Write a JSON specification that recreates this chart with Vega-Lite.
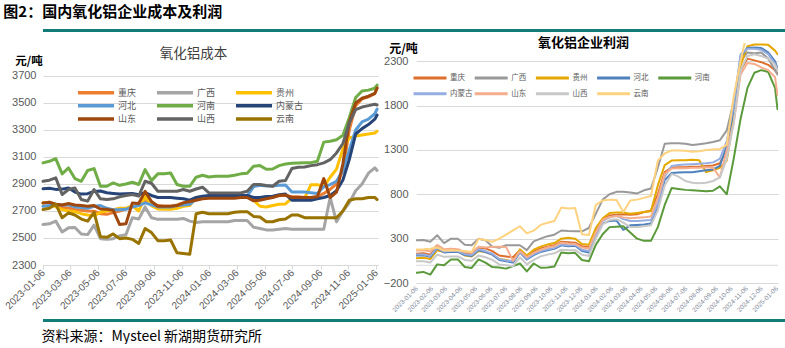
{"$schema":"https://vega.github.io/schema/vega-lite/v6.json","background":"white","padding":{"left":3,"top":5,"right":0,"bottom":0},"autosize":{"type":"pad"},
"config":{"view":{"stroke":null},"axis":{"labelFont":"Liberation Sans"},"title":{"font":"Noto Sans CJK SC"}},
"title":{"text":"图2：国内氧化铝企业成本及利润","anchor":"start","frame":"bounds","fontSize":15,"fontWeight":"bold","color":"#000000","baseline":"bottom","offset":-6},
"datasets":{
"cost":[
{"d":"2023-01-06","s":"重庆","v":2760},{"d":"2023-01-20","s":"重庆","v":2762},{"d":"2023-02-03","s":"重庆","v":2740},{"d":"2023-02-17","s":"重庆","v":2725},{"d":"2023-03-03","s":"重庆","v":2722},{"d":"2023-03-17","s":"重庆","v":2712},{"d":"2023-03-31","s":"重庆","v":2705},{"d":"2023-04-14","s":"重庆","v":2700},{"d":"2023-04-28","s":"重庆","v":2698},{"d":"2023-05-12","s":"重庆","v":2680},{"d":"2023-05-26","s":"重庆","v":2675},{"d":"2023-06-09","s":"重庆","v":2688},{"d":"2023-06-23","s":"重庆","v":2700},{"d":"2023-07-07","s":"重庆","v":2715},{"d":"2023-07-21","s":"重庆","v":2735},{"d":"2023-08-04","s":"重庆","v":2745},{"d":"2023-08-18","s":"重庆","v":2770},{"d":"2023-09-01","s":"重庆","v":2760},{"d":"2023-09-15","s":"重庆","v":2740},{"d":"2023-09-29","s":"重庆","v":2735},{"d":"2023-10-13","s":"重庆","v":2735},{"d":"2023-10-27","s":"重庆","v":2745},{"d":"2023-11-10","s":"重庆","v":2760},{"d":"2023-11-24","s":"重庆","v":2770},{"d":"2023-12-08","s":"重庆","v":2790},{"d":"2023-12-22","s":"重庆","v":2800},{"d":"2024-01-05","s":"重庆","v":2805},{"d":"2024-01-19","s":"重庆","v":2805},{"d":"2024-02-02","s":"重庆","v":2805},{"d":"2024-02-16","s":"重庆","v":2805},{"d":"2024-03-01","s":"重庆","v":2805},{"d":"2024-03-15","s":"重庆","v":2808},{"d":"2024-03-29","s":"重庆","v":2808},{"d":"2024-04-12","s":"重庆","v":2790},{"d":"2024-04-26","s":"重庆","v":2795},{"d":"2024-05-10","s":"重庆","v":2800},{"d":"2024-05-24","s":"重庆","v":2805},{"d":"2024-06-07","s":"重庆","v":2815},{"d":"2024-06-21","s":"重庆","v":2815},{"d":"2024-07-05","s":"重庆","v":2805},{"d":"2024-07-19","s":"重庆","v":2805},{"d":"2024-08-02","s":"重庆","v":2800},{"d":"2024-08-16","s":"重庆","v":2800},{"d":"2024-08-30","s":"重庆","v":2805},{"d":"2024-09-13","s":"重庆","v":2830},{"d":"2024-09-27","s":"重庆","v":2860},{"d":"2024-10-11","s":"重庆","v":2900},{"d":"2024-10-25","s":"重庆","v":3000},{"d":"2024-11-08","s":"重庆","v":3300},{"d":"2024-11-22","s":"重庆","v":3480},{"d":"2024-12-06","s":"重庆","v":3530},{"d":"2024-12-20","s":"重庆","v":3545},{"d":"2025-01-03","s":"重庆","v":3570},{"d":"2025-01-08","s":"重庆","v":3615},
{"d":"2023-01-06","s":"广西","v":2600},{"d":"2023-01-20","s":"广西","v":2605},{"d":"2023-02-03","s":"广西","v":2625},{"d":"2023-02-17","s":"广西","v":2545},{"d":"2023-03-03","s":"广西","v":2575},{"d":"2023-03-17","s":"广西","v":2578},{"d":"2023-03-31","s":"广西","v":2530},{"d":"2023-04-14","s":"广西","v":2525},{"d":"2023-04-28","s":"广西","v":2595},{"d":"2023-05-12","s":"广西","v":2495},{"d":"2023-05-26","s":"广西","v":2490},{"d":"2023-06-09","s":"广西","v":2495},{"d":"2023-06-23","s":"广西","v":2515},{"d":"2023-07-07","s":"广西","v":2525},{"d":"2023-07-21","s":"广西","v":2650},{"d":"2023-08-04","s":"广西","v":2640},{"d":"2023-08-18","s":"广西","v":2730},{"d":"2023-09-01","s":"广西","v":2650},{"d":"2023-09-15","s":"广西","v":2638},{"d":"2023-09-29","s":"广西","v":2638},{"d":"2023-10-13","s":"广西","v":2638},{"d":"2023-10-27","s":"广西","v":2638},{"d":"2023-11-10","s":"广西","v":2645},{"d":"2023-11-24","s":"广西","v":2625},{"d":"2023-12-08","s":"广西","v":2615},{"d":"2023-12-22","s":"广西","v":2620},{"d":"2024-01-05","s":"广西","v":2620},{"d":"2024-01-19","s":"广西","v":2620},{"d":"2024-02-02","s":"广西","v":2620},{"d":"2024-02-16","s":"广西","v":2620},{"d":"2024-03-01","s":"广西","v":2630},{"d":"2024-03-15","s":"广西","v":2630},{"d":"2024-03-29","s":"广西","v":2630},{"d":"2024-04-12","s":"广西","v":2580},{"d":"2024-04-26","s":"广西","v":2570},{"d":"2024-05-10","s":"广西","v":2560},{"d":"2024-05-24","s":"广西","v":2560},{"d":"2024-06-07","s":"广西","v":2565},{"d":"2024-06-21","s":"广西","v":2570},{"d":"2024-07-05","s":"广西","v":2565},{"d":"2024-07-19","s":"广西","v":2565},{"d":"2024-08-02","s":"广西","v":2565},{"d":"2024-08-16","s":"广西","v":2565},{"d":"2024-08-30","s":"广西","v":2565},{"d":"2024-09-13","s":"广西","v":2565},{"d":"2024-09-27","s":"广西","v":2800},{"d":"2024-10-11","s":"广西","v":2620},{"d":"2024-10-25","s":"广西","v":2700},{"d":"2024-11-08","s":"广西","v":2760},{"d":"2024-11-22","s":"广西","v":2850},{"d":"2024-12-06","s":"广西","v":2900},{"d":"2024-12-20","s":"广西","v":2980},{"d":"2025-01-03","s":"广西","v":3020},{"d":"2025-01-08","s":"广西","v":3000},
{"d":"2023-01-06","s":"贵州","v":2760},{"d":"2023-01-20","s":"贵州","v":2765},{"d":"2023-02-03","s":"贵州","v":2730},{"d":"2023-02-17","s":"贵州","v":2710},{"d":"2023-03-03","s":"贵州","v":2700},{"d":"2023-03-17","s":"贵州","v":2695},{"d":"2023-03-31","s":"贵州","v":2680},{"d":"2023-04-14","s":"贵州","v":2670},{"d":"2023-04-28","s":"贵州","v":2665},{"d":"2023-05-12","s":"贵州","v":2690},{"d":"2023-05-26","s":"贵州","v":2700},{"d":"2023-06-09","s":"贵州","v":2710},{"d":"2023-06-23","s":"贵州","v":2720},{"d":"2023-07-07","s":"贵州","v":2720},{"d":"2023-07-21","s":"贵州","v":2740},{"d":"2023-08-04","s":"贵州","v":2700},{"d":"2023-08-18","s":"贵州","v":2810},{"d":"2023-09-01","s":"贵州","v":2740},{"d":"2023-09-15","s":"贵州","v":2715},{"d":"2023-09-29","s":"贵州","v":2712},{"d":"2023-10-13","s":"贵州","v":2712},{"d":"2023-10-27","s":"贵州","v":2720},{"d":"2023-11-10","s":"贵州","v":2735},{"d":"2023-11-24","s":"贵州","v":2740},{"d":"2023-12-08","s":"贵州","v":2800},{"d":"2023-12-22","s":"贵州","v":2805},{"d":"2024-01-05","s":"贵州","v":2810},{"d":"2024-01-19","s":"贵州","v":2810},{"d":"2024-02-02","s":"贵州","v":2810},{"d":"2024-02-16","s":"贵州","v":2810},{"d":"2024-03-01","s":"贵州","v":2810},{"d":"2024-03-15","s":"贵州","v":2810},{"d":"2024-03-29","s":"贵州","v":2810},{"d":"2024-04-12","s":"贵州","v":2780},{"d":"2024-04-26","s":"贵州","v":2735},{"d":"2024-05-10","s":"贵州","v":2730},{"d":"2024-05-24","s":"贵州","v":2740},{"d":"2024-06-07","s":"贵州","v":2750},{"d":"2024-06-21","s":"贵州","v":2752},{"d":"2024-07-05","s":"贵州","v":2795},{"d":"2024-07-19","s":"贵州","v":2795},{"d":"2024-08-02","s":"贵州","v":2795},{"d":"2024-08-16","s":"贵州","v":2895},{"d":"2024-08-30","s":"贵州","v":2895},{"d":"2024-09-13","s":"贵州","v":2880},{"d":"2024-09-27","s":"贵州","v":2950},{"d":"2024-10-11","s":"贵州","v":3010},{"d":"2024-10-25","s":"贵州","v":3160},{"d":"2024-11-08","s":"贵州","v":3240},{"d":"2024-11-22","s":"贵州","v":3255},{"d":"2024-12-06","s":"贵州","v":3262},{"d":"2024-12-20","s":"贵州","v":3270},{"d":"2025-01-03","s":"贵州","v":3278},{"d":"2025-01-08","s":"贵州","v":3290},
{"d":"2023-01-06","s":"河北","v":2735},{"d":"2023-01-20","s":"河北","v":2740},{"d":"2023-02-03","s":"河北","v":2750},{"d":"2023-02-17","s":"河北","v":2745},{"d":"2023-03-03","s":"河北","v":2745},{"d":"2023-03-17","s":"河北","v":2730},{"d":"2023-03-31","s":"河北","v":2725},{"d":"2023-04-14","s":"河北","v":2720},{"d":"2023-04-28","s":"河北","v":2735},{"d":"2023-05-12","s":"河北","v":2740},{"d":"2023-05-26","s":"河北","v":2720},{"d":"2023-06-09","s":"河北","v":2710},{"d":"2023-06-23","s":"河北","v":2710},{"d":"2023-07-07","s":"河北","v":2712},{"d":"2023-07-21","s":"河北","v":2730},{"d":"2023-08-04","s":"河北","v":2740},{"d":"2023-08-18","s":"河北","v":2760},{"d":"2023-09-01","s":"河北","v":2745},{"d":"2023-09-15","s":"河北","v":2730},{"d":"2023-09-29","s":"河北","v":2730},{"d":"2023-10-13","s":"河北","v":2730},{"d":"2023-10-27","s":"河北","v":2740},{"d":"2023-11-10","s":"河北","v":2745},{"d":"2023-11-24","s":"河北","v":2750},{"d":"2023-12-08","s":"河北","v":2790},{"d":"2023-12-22","s":"河北","v":2805},{"d":"2024-01-05","s":"河北","v":2810},{"d":"2024-01-19","s":"河北","v":2810},{"d":"2024-02-02","s":"河北","v":2810},{"d":"2024-02-16","s":"河北","v":2810},{"d":"2024-03-01","s":"河北","v":2810},{"d":"2024-03-15","s":"河北","v":2810},{"d":"2024-03-29","s":"河北","v":2812},{"d":"2024-04-12","s":"河北","v":2880},{"d":"2024-04-26","s":"河北","v":2890},{"d":"2024-05-10","s":"河北","v":2885},{"d":"2024-05-24","s":"河北","v":2885},{"d":"2024-06-07","s":"河北","v":2890},{"d":"2024-06-21","s":"河北","v":2892},{"d":"2024-07-05","s":"河北","v":2840},{"d":"2024-07-19","s":"河北","v":2840},{"d":"2024-08-02","s":"河北","v":2840},{"d":"2024-08-16","s":"河北","v":2835},{"d":"2024-08-30","s":"河北","v":2830},{"d":"2024-09-13","s":"河北","v":2880},{"d":"2024-09-27","s":"河北","v":2895},{"d":"2024-10-11","s":"河北","v":2920},{"d":"2024-10-25","s":"河北","v":3000},{"d":"2024-11-08","s":"河北","v":3150},{"d":"2024-11-22","s":"河北","v":3300},{"d":"2024-12-06","s":"河北","v":3360},{"d":"2024-12-20","s":"河北","v":3380},{"d":"2025-01-03","s":"河北","v":3420},{"d":"2025-01-08","s":"河北","v":3455},
{"d":"2023-01-06","s":"河南","v":3056},{"d":"2023-01-20","s":"河南","v":3068},{"d":"2023-02-03","s":"河南","v":3088},{"d":"2023-02-17","s":"河南","v":2975},{"d":"2023-03-03","s":"河南","v":3019},{"d":"2023-03-17","s":"河南","v":2940},{"d":"2023-03-31","s":"河南","v":2920},{"d":"2023-04-14","s":"河南","v":3000},{"d":"2023-04-28","s":"河南","v":3014},{"d":"2023-05-12","s":"河南","v":2883},{"d":"2023-05-26","s":"河南","v":2883},{"d":"2023-06-09","s":"河南","v":2908},{"d":"2023-06-23","s":"河南","v":2890},{"d":"2023-07-07","s":"河南","v":2900},{"d":"2023-07-21","s":"河南","v":2913},{"d":"2023-08-04","s":"河南","v":2896},{"d":"2023-08-18","s":"河南","v":3006},{"d":"2023-09-01","s":"河南","v":2925},{"d":"2023-09-15","s":"河南","v":2975},{"d":"2023-09-29","s":"河南","v":2975},{"d":"2023-10-13","s":"河南","v":2982},{"d":"2023-10-27","s":"河南","v":2896},{"d":"2023-11-10","s":"河南","v":2883},{"d":"2023-11-24","s":"河南","v":2883},{"d":"2023-12-08","s":"河南","v":2950},{"d":"2023-12-22","s":"河南","v":2965},{"d":"2024-01-05","s":"河南","v":2952},{"d":"2024-01-19","s":"河南","v":2957},{"d":"2024-02-02","s":"河南","v":2957},{"d":"2024-02-16","s":"河南","v":2957},{"d":"2024-03-01","s":"河南","v":2965},{"d":"2024-03-15","s":"河南","v":2975},{"d":"2024-03-29","s":"河南","v":2980},{"d":"2024-04-12","s":"河南","v":3031},{"d":"2024-04-26","s":"河南","v":3036},{"d":"2024-05-10","s":"河南","v":3009},{"d":"2024-05-24","s":"河南","v":3011},{"d":"2024-06-07","s":"河南","v":3036},{"d":"2024-06-21","s":"河南","v":3048},{"d":"2024-07-05","s":"河南","v":3053},{"d":"2024-07-19","s":"河南","v":3056},{"d":"2024-08-02","s":"河南","v":3058},{"d":"2024-08-16","s":"河南","v":3058},{"d":"2024-08-30","s":"河南","v":3068},{"d":"2024-09-13","s":"河南","v":3210},{"d":"2024-09-27","s":"河南","v":3216},{"d":"2024-10-11","s":"河南","v":3228},{"d":"2024-10-25","s":"河南","v":3260},{"d":"2024-11-08","s":"河南","v":3390},{"d":"2024-11-22","s":"河南","v":3540},{"d":"2024-12-06","s":"河南","v":3589},{"d":"2024-12-20","s":"河南","v":3595},{"d":"2025-01-03","s":"河南","v":3609},{"d":"2025-01-08","s":"河南","v":3633},
{"d":"2023-01-06","s":"内蒙古","v":2865},{"d":"2023-01-20","s":"内蒙古","v":2868},{"d":"2023-02-03","s":"内蒙古","v":2860},{"d":"2023-02-17","s":"内蒙古","v":2862},{"d":"2023-03-03","s":"内蒙古","v":2870},{"d":"2023-03-17","s":"内蒙古","v":2840},{"d":"2023-03-31","s":"内蒙古","v":2825},{"d":"2023-04-14","s":"内蒙古","v":2828},{"d":"2023-04-28","s":"内蒙古","v":2845},{"d":"2023-05-12","s":"内蒙古","v":2848},{"d":"2023-05-26","s":"内蒙古","v":2835},{"d":"2023-06-09","s":"内蒙古","v":2830},{"d":"2023-06-23","s":"内蒙古","v":2825},{"d":"2023-07-07","s":"内蒙古","v":2828},{"d":"2023-07-21","s":"内蒙古","v":2830},{"d":"2023-08-04","s":"内蒙古","v":2820},{"d":"2023-08-18","s":"内蒙古","v":2835},{"d":"2023-09-01","s":"内蒙古","v":2815},{"d":"2023-09-15","s":"内蒙古","v":2800},{"d":"2023-09-29","s":"内蒙古","v":2800},{"d":"2023-10-13","s":"内蒙古","v":2800},{"d":"2023-10-27","s":"内蒙古","v":2795},{"d":"2023-11-10","s":"内蒙古","v":2790},{"d":"2023-11-24","s":"内蒙古","v":2780},{"d":"2023-12-08","s":"内蒙古","v":2800},{"d":"2023-12-22","s":"内蒙古","v":2810},{"d":"2024-01-05","s":"内蒙古","v":2815},{"d":"2024-01-19","s":"内蒙古","v":2815},{"d":"2024-02-02","s":"内蒙古","v":2815},{"d":"2024-02-16","s":"内蒙古","v":2815},{"d":"2024-03-01","s":"内蒙古","v":2815},{"d":"2024-03-15","s":"内蒙古","v":2815},{"d":"2024-03-29","s":"内蒙古","v":2815},{"d":"2024-04-12","s":"内蒙古","v":2800},{"d":"2024-04-26","s":"内蒙古","v":2800},{"d":"2024-05-10","s":"内蒙古","v":2808},{"d":"2024-05-24","s":"内蒙古","v":2810},{"d":"2024-06-07","s":"内蒙古","v":2820},{"d":"2024-06-21","s":"内蒙古","v":2825},{"d":"2024-07-05","s":"内蒙古","v":2780},{"d":"2024-07-19","s":"内蒙古","v":2780},{"d":"2024-08-02","s":"内蒙古","v":2780},{"d":"2024-08-16","s":"内蒙古","v":2780},{"d":"2024-08-30","s":"内蒙古","v":2790},{"d":"2024-09-13","s":"内蒙古","v":2800},{"d":"2024-09-27","s":"内蒙古","v":2815},{"d":"2024-10-11","s":"内蒙古","v":2850},{"d":"2024-10-25","s":"内蒙古","v":2930},{"d":"2024-11-08","s":"内蒙古","v":3080},{"d":"2024-11-22","s":"内蒙古","v":3270},{"d":"2024-12-06","s":"内蒙古","v":3310},{"d":"2024-12-20","s":"内蒙古","v":3340},{"d":"2025-01-03","s":"内蒙古","v":3380},{"d":"2025-01-08","s":"内蒙古","v":3410},
{"d":"2023-01-06","s":"山东","v":2760},{"d":"2023-01-20","s":"山东","v":2765},{"d":"2023-02-03","s":"山东","v":2750},{"d":"2023-02-17","s":"山东","v":2745},{"d":"2023-03-03","s":"山东","v":2755},{"d":"2023-03-17","s":"山东","v":2745},{"d":"2023-03-31","s":"山东","v":2740},{"d":"2023-04-14","s":"山东","v":2735},{"d":"2023-04-28","s":"山东","v":2740},{"d":"2023-05-12","s":"山东","v":2715},{"d":"2023-05-26","s":"山东","v":2712},{"d":"2023-06-09","s":"山东","v":2705},{"d":"2023-06-23","s":"山东","v":2600},{"d":"2023-07-07","s":"山东","v":2605},{"d":"2023-07-21","s":"山东","v":2760},{"d":"2023-08-04","s":"山东","v":2755},{"d":"2023-08-18","s":"山东","v":2845},{"d":"2023-09-01","s":"山东","v":2770},{"d":"2023-09-15","s":"山东","v":2735},{"d":"2023-09-29","s":"山东","v":2735},{"d":"2023-10-13","s":"山东","v":2735},{"d":"2023-10-27","s":"山东","v":2740},{"d":"2023-11-10","s":"山东","v":2760},{"d":"2023-11-24","s":"山东","v":2770},{"d":"2023-12-08","s":"山东","v":2780},{"d":"2023-12-22","s":"山东","v":2790},{"d":"2024-01-05","s":"山东","v":2795},{"d":"2024-01-19","s":"山东","v":2795},{"d":"2024-02-02","s":"山东","v":2795},{"d":"2024-02-16","s":"山东","v":2795},{"d":"2024-03-01","s":"山东","v":2795},{"d":"2024-03-15","s":"山东","v":2800},{"d":"2024-03-29","s":"山东","v":2800},{"d":"2024-04-12","s":"山东","v":2775},{"d":"2024-04-26","s":"山东","v":2780},{"d":"2024-05-10","s":"山东","v":2790},{"d":"2024-05-24","s":"山东","v":2800},{"d":"2024-06-07","s":"山东","v":2815},{"d":"2024-06-21","s":"山东","v":2818},{"d":"2024-07-05","s":"山东","v":2800},{"d":"2024-07-19","s":"山东","v":2800},{"d":"2024-08-02","s":"山东","v":2800},{"d":"2024-08-16","s":"山东","v":2800},{"d":"2024-08-30","s":"山东","v":2805},{"d":"2024-09-13","s":"山东","v":2940},{"d":"2024-09-27","s":"山东","v":2800},{"d":"2024-10-11","s":"山东","v":2840},{"d":"2024-10-25","s":"山东","v":3050},{"d":"2024-11-08","s":"山东","v":3360},{"d":"2024-11-22","s":"山东","v":3500},{"d":"2024-12-06","s":"山东","v":3535},{"d":"2024-12-20","s":"山东","v":3550},{"d":"2025-01-03","s":"山东","v":3570},{"d":"2025-01-08","s":"山东","v":3610},
{"d":"2023-01-06","s":"山西","v":2920},{"d":"2023-01-20","s":"山西","v":2928},{"d":"2023-02-03","s":"山西","v":2945},{"d":"2023-02-17","s":"山西","v":2822},{"d":"2023-03-03","s":"山西","v":2859},{"d":"2023-03-17","s":"山西","v":2871},{"d":"2023-03-31","s":"山西","v":2785},{"d":"2023-04-14","s":"山西","v":2773},{"d":"2023-04-28","s":"山西","v":2859},{"d":"2023-05-12","s":"山西","v":2790},{"d":"2023-05-26","s":"山西","v":2785},{"d":"2023-06-09","s":"山西","v":2790},{"d":"2023-06-23","s":"山西","v":2805},{"d":"2023-07-07","s":"山西","v":2815},{"d":"2023-07-21","s":"山西","v":2822},{"d":"2023-08-04","s":"山西","v":2810},{"d":"2023-08-18","s":"山西","v":2920},{"d":"2023-09-01","s":"山西","v":2905},{"d":"2023-09-15","s":"山西","v":2846},{"d":"2023-09-29","s":"山西","v":2846},{"d":"2023-10-13","s":"山西","v":2846},{"d":"2023-10-27","s":"山西","v":2846},{"d":"2023-11-10","s":"山西","v":2859},{"d":"2023-11-24","s":"山西","v":2846},{"d":"2023-12-08","s":"山西","v":2863},{"d":"2023-12-22","s":"山西","v":2876},{"d":"2024-01-05","s":"山西","v":2834},{"d":"2024-01-19","s":"山西","v":2834},{"d":"2024-02-02","s":"山西","v":2834},{"d":"2024-02-16","s":"山西","v":2834},{"d":"2024-03-01","s":"山西","v":2834},{"d":"2024-03-15","s":"山西","v":2834},{"d":"2024-03-29","s":"山西","v":2846},{"d":"2024-04-12","s":"山西","v":2896},{"d":"2024-04-26","s":"山西","v":2896},{"d":"2024-05-10","s":"山西","v":2888},{"d":"2024-05-24","s":"山西","v":2883},{"d":"2024-06-07","s":"山西","v":2920},{"d":"2024-06-21","s":"山西","v":2925},{"d":"2024-07-05","s":"山西","v":3014},{"d":"2024-07-19","s":"山西","v":3024},{"d":"2024-08-02","s":"山西","v":3026},{"d":"2024-08-16","s":"山西","v":3036},{"d":"2024-08-30","s":"山西","v":3043},{"d":"2024-09-13","s":"山西","v":3056},{"d":"2024-09-27","s":"山西","v":3080},{"d":"2024-10-11","s":"山西","v":3130},{"d":"2024-10-25","s":"山西","v":3200},{"d":"2024-11-08","s":"山西","v":3350},{"d":"2024-11-22","s":"山西","v":3450},{"d":"2024-12-06","s":"山西","v":3470},{"d":"2024-12-20","s":"山西","v":3480},{"d":"2025-01-03","s":"山西","v":3490},{"d":"2025-01-08","s":"山西","v":3485},
{"d":"2023-01-06","s":"云南","v":2711},{"d":"2023-01-20","s":"云南","v":2720},{"d":"2023-02-03","s":"云南","v":2750},{"d":"2023-02-17","s":"云南","v":2650},{"d":"2023-03-03","s":"云南","v":2686},{"d":"2023-03-17","s":"云南","v":2670},{"d":"2023-03-31","s":"云南","v":2640},{"d":"2023-04-14","s":"云南","v":2625},{"d":"2023-04-28","s":"云南","v":2690},{"d":"2023-05-12","s":"云南","v":2510},{"d":"2023-05-26","s":"云南","v":2505},{"d":"2023-06-09","s":"云南","v":2530},{"d":"2023-06-23","s":"云南","v":2495},{"d":"2023-07-07","s":"云南","v":2500},{"d":"2023-07-21","s":"云南","v":2490},{"d":"2023-08-04","s":"云南","v":2460},{"d":"2023-08-18","s":"云南","v":2570},{"d":"2023-09-01","s":"云南","v":2540},{"d":"2023-09-15","s":"云南","v":2480},{"d":"2023-09-29","s":"云南","v":2480},{"d":"2023-10-13","s":"云南","v":2485},{"d":"2023-10-27","s":"云南","v":2390},{"d":"2023-11-10","s":"云南","v":2385},{"d":"2023-11-24","s":"云南","v":2380},{"d":"2023-12-08","s":"云南","v":2680},{"d":"2023-12-22","s":"云南","v":2690},{"d":"2024-01-05","s":"云南","v":2680},{"d":"2024-01-19","s":"云南","v":2680},{"d":"2024-02-02","s":"云南","v":2680},{"d":"2024-02-16","s":"云南","v":2680},{"d":"2024-03-01","s":"云南","v":2690},{"d":"2024-03-15","s":"云南","v":2695},{"d":"2024-03-29","s":"云南","v":2695},{"d":"2024-04-12","s":"云南","v":2660},{"d":"2024-04-26","s":"云南","v":2655},{"d":"2024-05-10","s":"云南","v":2620},{"d":"2024-05-24","s":"云南","v":2620},{"d":"2024-06-07","s":"云南","v":2635},{"d":"2024-06-21","s":"云南","v":2640},{"d":"2024-07-05","s":"云南","v":2670},{"d":"2024-07-19","s":"云南","v":2670},{"d":"2024-08-02","s":"云南","v":2650},{"d":"2024-08-16","s":"云南","v":2650},{"d":"2024-08-30","s":"云南","v":2650},{"d":"2024-09-13","s":"云南","v":2650},{"d":"2024-09-27","s":"云南","v":2650},{"d":"2024-10-11","s":"云南","v":2650},{"d":"2024-10-25","s":"云南","v":2700},{"d":"2024-11-08","s":"云南","v":2780},{"d":"2024-11-22","s":"云南","v":2790},{"d":"2024-12-06","s":"云南","v":2790},{"d":"2024-12-20","s":"云南","v":2800},{"d":"2025-01-03","s":"云南","v":2800},{"d":"2025-01-08","s":"云南","v":2785}
],
"profit":[
{"d":"2023-01-06","s":"重庆","v":130},{"d":"2023-01-20","s":"重庆","v":135},{"d":"2023-02-03","s":"重庆","v":120},{"d":"2023-02-17","s":"重庆","v":210},{"d":"2023-03-03","s":"重庆","v":170},{"d":"2023-03-17","s":"重庆","v":175},{"d":"2023-03-31","s":"重庆","v":170},{"d":"2023-04-14","s":"重庆","v":140},{"d":"2023-04-28","s":"重庆","v":130},{"d":"2023-05-12","s":"重庆","v":200},{"d":"2023-05-26","s":"重庆","v":190},{"d":"2023-06-09","s":"重庆","v":160},{"d":"2023-06-23","s":"重庆","v":110},{"d":"2023-07-07","s":"重庆","v":100},{"d":"2023-07-21","s":"重庆","v":90},{"d":"2023-08-04","s":"重庆","v":170},{"d":"2023-08-18","s":"重庆","v":100},{"d":"2023-09-01","s":"重庆","v":150},{"d":"2023-09-15","s":"重庆","v":190},{"d":"2023-09-29","s":"重庆","v":210},{"d":"2023-10-13","s":"重庆","v":225},{"d":"2023-10-27","s":"重庆","v":265},{"d":"2023-11-10","s":"重庆","v":260},{"d":"2023-11-24","s":"重庆","v":255},{"d":"2023-12-08","s":"重庆","v":215},{"d":"2023-12-22","s":"重庆","v":205},{"d":"2024-01-05","s":"重庆","v":380},{"d":"2024-01-19","s":"重庆","v":520},{"d":"2024-02-02","s":"重庆","v":560},{"d":"2024-02-16","s":"重庆","v":570},{"d":"2024-03-01","s":"重庆","v":575},{"d":"2024-03-15","s":"重庆","v":570},{"d":"2024-03-29","s":"重庆","v":575},{"d":"2024-04-12","s":"重庆","v":600},{"d":"2024-04-26","s":"重庆","v":615},{"d":"2024-05-10","s":"重庆","v":800},{"d":"2024-05-24","s":"重庆","v":1050},{"d":"2024-06-07","s":"重庆","v":1100},{"d":"2024-06-21","s":"重庆","v":1105},{"d":"2024-07-05","s":"重庆","v":1105},{"d":"2024-07-19","s":"重庆","v":1110},{"d":"2024-08-02","s":"重庆","v":1110},{"d":"2024-08-16","s":"重庆","v":1120},{"d":"2024-08-30","s":"重庆","v":1125},{"d":"2024-09-13","s":"重庆","v":1150},{"d":"2024-09-27","s":"重庆","v":1300},{"d":"2024-10-11","s":"重庆","v":1650},{"d":"2024-10-25","s":"重庆","v":2200},{"d":"2024-11-08","s":"重庆","v":2330},{"d":"2024-11-22","s":"重庆","v":2310},{"d":"2024-12-06","s":"重庆","v":2290},{"d":"2024-12-20","s":"重庆","v":2260},{"d":"2025-01-03","s":"重庆","v":2200},{"d":"2025-01-08","s":"重庆","v":2160},
{"d":"2023-01-06","s":"广西","v":281},{"d":"2023-01-20","s":"广西","v":285},{"d":"2023-02-03","s":"广西","v":265},{"d":"2023-02-17","s":"广西","v":338},{"d":"2023-03-03","s":"广西","v":250},{"d":"2023-03-17","s":"广西","v":300},{"d":"2023-03-31","s":"广西","v":300},{"d":"2023-04-14","s":"广西","v":232},{"d":"2023-04-28","s":"广西","v":225},{"d":"2023-05-12","s":"广西","v":300},{"d":"2023-05-26","s":"广西","v":282},{"d":"2023-06-09","s":"广西","v":210},{"d":"2023-06-23","s":"广西","v":198},{"d":"2023-07-07","s":"广西","v":225},{"d":"2023-07-21","s":"广西","v":225},{"d":"2023-08-04","s":"广西","v":225},{"d":"2023-08-18","s":"广西","v":170},{"d":"2023-09-01","s":"广西","v":270},{"d":"2023-09-15","s":"广西","v":300},{"d":"2023-09-29","s":"广西","v":328},{"d":"2023-10-13","s":"广西","v":345},{"d":"2023-10-27","s":"广西","v":392},{"d":"2023-11-10","s":"广西","v":385},{"d":"2023-11-24","s":"广西","v":383},{"d":"2023-12-08","s":"广西","v":383},{"d":"2023-12-22","s":"广西","v":420},{"d":"2024-01-05","s":"广西","v":580},{"d":"2024-01-19","s":"广西","v":740},{"d":"2024-02-02","s":"广西","v":800},{"d":"2024-02-16","s":"广西","v":828},{"d":"2024-03-01","s":"广西","v":828},{"d":"2024-03-15","s":"广西","v":820},{"d":"2024-03-29","s":"广西","v":810},{"d":"2024-04-12","s":"广西","v":845},{"d":"2024-04-26","s":"广西","v":865},{"d":"2024-05-10","s":"广西","v":1100},{"d":"2024-05-24","s":"广西","v":1370},{"d":"2024-06-07","s":"广西","v":1375},{"d":"2024-06-21","s":"广西","v":1375},{"d":"2024-07-05","s":"广西","v":1370},{"d":"2024-07-19","s":"广西","v":1355},{"d":"2024-08-02","s":"广西","v":1365},{"d":"2024-08-16","s":"广西","v":1375},{"d":"2024-08-30","s":"广西","v":1390},{"d":"2024-09-13","s":"广西","v":1410},{"d":"2024-09-27","s":"广西","v":1520},{"d":"2024-10-11","s":"广西","v":1850},{"d":"2024-10-25","s":"广西","v":2300},{"d":"2024-11-08","s":"广西","v":2400},{"d":"2024-11-22","s":"广西","v":2390},{"d":"2024-12-06","s":"广西","v":2400},{"d":"2024-12-20","s":"广西","v":2330},{"d":"2025-01-03","s":"广西","v":2200},{"d":"2025-01-08","s":"广西","v":2150},
{"d":"2023-01-06","s":"贵州","v":80},{"d":"2023-01-20","s":"贵州","v":85},{"d":"2023-02-03","s":"贵州","v":70},{"d":"2023-02-17","s":"贵州","v":170},{"d":"2023-03-03","s":"贵州","v":150},{"d":"2023-03-17","s":"贵州","v":150},{"d":"2023-03-31","s":"贵州","v":160},{"d":"2023-04-14","s":"贵州","v":110},{"d":"2023-04-28","s":"贵州","v":100},{"d":"2023-05-12","s":"贵州","v":160},{"d":"2023-05-26","s":"贵州","v":150},{"d":"2023-06-09","s":"贵州","v":120},{"d":"2023-06-23","s":"贵州","v":70},{"d":"2023-07-07","s":"贵州","v":60},{"d":"2023-07-21","s":"贵州","v":40},{"d":"2023-08-04","s":"贵州","v":180},{"d":"2023-08-18","s":"贵州","v":110},{"d":"2023-09-01","s":"贵州","v":175},{"d":"2023-09-15","s":"贵州","v":210},{"d":"2023-09-29","s":"贵州","v":235},{"d":"2023-10-13","s":"贵州","v":250},{"d":"2023-10-27","s":"贵州","v":300},{"d":"2023-11-10","s":"贵州","v":310},{"d":"2023-11-24","s":"贵州","v":300},{"d":"2023-12-08","s":"贵州","v":240},{"d":"2023-12-22","s":"贵州","v":230},{"d":"2024-01-05","s":"贵州","v":420},{"d":"2024-01-19","s":"贵州","v":530},{"d":"2024-02-02","s":"贵州","v":590},{"d":"2024-02-16","s":"贵州","v":595},{"d":"2024-03-01","s":"贵州","v":595},{"d":"2024-03-15","s":"贵州","v":580},{"d":"2024-03-29","s":"贵州","v":590},{"d":"2024-04-12","s":"贵州","v":600},{"d":"2024-04-26","s":"贵州","v":610},{"d":"2024-05-10","s":"贵州","v":900},{"d":"2024-05-24","s":"贵州","v":1130},{"d":"2024-06-07","s":"贵州","v":1180},{"d":"2024-06-21","s":"贵州","v":1185},{"d":"2024-07-05","s":"贵州","v":1185},{"d":"2024-07-19","s":"贵州","v":1190},{"d":"2024-08-02","s":"贵州","v":1185},{"d":"2024-08-16","s":"贵州","v":1050},{"d":"2024-08-30","s":"贵州","v":1070},{"d":"2024-09-13","s":"贵州","v":1100},{"d":"2024-09-27","s":"贵州","v":1180},{"d":"2024-10-11","s":"贵州","v":1650},{"d":"2024-10-25","s":"贵州","v":2250},{"d":"2024-11-08","s":"贵州","v":2470},{"d":"2024-11-22","s":"贵州","v":2490},{"d":"2024-12-06","s":"贵州","v":2490},{"d":"2024-12-20","s":"贵州","v":2485},{"d":"2025-01-03","s":"贵州","v":2420},{"d":"2025-01-08","s":"贵州","v":2380},
{"d":"2023-01-06","s":"河北","v":110},{"d":"2023-01-20","s":"河北","v":112},{"d":"2023-02-03","s":"河北","v":95},{"d":"2023-02-17","s":"河北","v":190},{"d":"2023-03-03","s":"河北","v":145},{"d":"2023-03-17","s":"河北","v":150},{"d":"2023-03-31","s":"河北","v":150},{"d":"2023-04-14","s":"河北","v":115},{"d":"2023-04-28","s":"河北","v":105},{"d":"2023-05-12","s":"河北","v":170},{"d":"2023-05-26","s":"河北","v":150},{"d":"2023-06-09","s":"河北","v":120},{"d":"2023-06-23","s":"河北","v":60},{"d":"2023-07-07","s":"河北","v":45},{"d":"2023-07-21","s":"河北","v":30},{"d":"2023-08-04","s":"河北","v":145},{"d":"2023-08-18","s":"河北","v":65},{"d":"2023-09-01","s":"河北","v":115},{"d":"2023-09-15","s":"河北","v":150},{"d":"2023-09-29","s":"河北","v":170},{"d":"2023-10-13","s":"河北","v":185},{"d":"2023-10-27","s":"河北","v":225},{"d":"2023-11-10","s":"河北","v":215},{"d":"2023-11-24","s":"河北","v":220},{"d":"2023-12-08","s":"河北","v":160},{"d":"2023-12-22","s":"河北","v":145},{"d":"2024-01-05","s":"河北","v":330},{"d":"2024-01-19","s":"河北","v":470},{"d":"2024-02-02","s":"河北","v":500},{"d":"2024-02-16","s":"河北","v":505},{"d":"2024-03-01","s":"河北","v":400},{"d":"2024-03-15","s":"河北","v":450},{"d":"2024-03-29","s":"河北","v":455},{"d":"2024-04-12","s":"河北","v":460},{"d":"2024-04-26","s":"河北","v":470},{"d":"2024-05-10","s":"河北","v":650},{"d":"2024-05-24","s":"河北","v":960},{"d":"2024-06-07","s":"河北","v":1040},{"d":"2024-06-21","s":"河北","v":1045},{"d":"2024-07-05","s":"河北","v":1050},{"d":"2024-07-19","s":"河北","v":1050},{"d":"2024-08-02","s":"河北","v":1060},{"d":"2024-08-16","s":"河北","v":1070},{"d":"2024-08-30","s":"河北","v":1080},{"d":"2024-09-13","s":"河北","v":1120},{"d":"2024-09-27","s":"河北","v":1350},{"d":"2024-10-11","s":"河北","v":1750},{"d":"2024-10-25","s":"河北","v":2350},{"d":"2024-11-08","s":"河北","v":2450},{"d":"2024-11-22","s":"河北","v":2455},{"d":"2024-12-06","s":"河北","v":2450},{"d":"2024-12-20","s":"河北","v":2400},{"d":"2025-01-03","s":"河北","v":2300},{"d":"2025-01-08","s":"河北","v":2220},
{"d":"2023-01-06","s":"河南","v":-85},{"d":"2023-01-20","s":"河南","v":-75},{"d":"2023-02-03","s":"河南","v":-105},{"d":"2023-02-17","s":"河南","v":10},{"d":"2023-03-03","s":"河南","v":0},{"d":"2023-03-17","s":"河南","v":66},{"d":"2023-03-31","s":"河南","v":66},{"d":"2023-04-14","s":"河南","v":-20},{"d":"2023-04-28","s":"河南","v":-30},{"d":"2023-05-12","s":"河南","v":66},{"d":"2023-05-26","s":"河南","v":30},{"d":"2023-06-09","s":"河南","v":-20},{"d":"2023-06-23","s":"河南","v":-25},{"d":"2023-07-07","s":"河南","v":-38},{"d":"2023-07-21","s":"河南","v":-10},{"d":"2023-08-04","s":"河南","v":20},{"d":"2023-08-18","s":"河南","v":-70},{"d":"2023-09-01","s":"河南","v":20},{"d":"2023-09-15","s":"河南","v":-28},{"d":"2023-09-29","s":"河南","v":-25},{"d":"2023-10-13","s":"河南","v":-15},{"d":"2023-10-27","s":"河南","v":145},{"d":"2023-11-10","s":"河南","v":135},{"d":"2023-11-24","s":"河南","v":140},{"d":"2023-12-08","s":"河南","v":60},{"d":"2023-12-22","s":"河南","v":45},{"d":"2024-01-05","s":"河南","v":230},{"d":"2024-01-19","s":"河南","v":350},{"d":"2024-02-02","s":"河南","v":430},{"d":"2024-02-16","s":"河南","v":435},{"d":"2024-03-01","s":"河南","v":440},{"d":"2024-03-15","s":"河南","v":370},{"d":"2024-03-29","s":"河南","v":300},{"d":"2024-04-12","s":"河南","v":275},{"d":"2024-04-26","s":"河南","v":275},{"d":"2024-05-10","s":"河南","v":430},{"d":"2024-05-24","s":"河南","v":680},{"d":"2024-06-07","s":"河南","v":870},{"d":"2024-06-21","s":"河南","v":860},{"d":"2024-07-05","s":"河南","v":850},{"d":"2024-07-19","s":"河南","v":845},{"d":"2024-08-02","s":"河南","v":840},{"d":"2024-08-16","s":"河南","v":835},{"d":"2024-08-30","s":"河南","v":840},{"d":"2024-09-13","s":"河南","v":890},{"d":"2024-09-27","s":"河南","v":800},{"d":"2024-10-11","s":"河南","v":1200},{"d":"2024-10-25","s":"河南","v":1650},{"d":"2024-11-08","s":"河南","v":2000},{"d":"2024-11-22","s":"河南","v":2170},{"d":"2024-12-06","s":"河南","v":2200},{"d":"2024-12-20","s":"河南","v":2180},{"d":"2025-01-03","s":"河南","v":2000},{"d":"2025-01-08","s":"河南","v":1760},
{"d":"2023-01-06","s":"内蒙古","v":120},{"d":"2023-01-20","s":"内蒙古","v":122},{"d":"2023-02-03","s":"内蒙古","v":105},{"d":"2023-02-17","s":"内蒙古","v":200},{"d":"2023-03-03","s":"内蒙古","v":155},{"d":"2023-03-17","s":"内蒙古","v":160},{"d":"2023-03-31","s":"内蒙古","v":160},{"d":"2023-04-14","s":"内蒙古","v":125},{"d":"2023-04-28","s":"内蒙古","v":115},{"d":"2023-05-12","s":"内蒙古","v":180},{"d":"2023-05-26","s":"内蒙古","v":160},{"d":"2023-06-09","s":"内蒙古","v":130},{"d":"2023-06-23","s":"内蒙古","v":70},{"d":"2023-07-07","s":"内蒙古","v":55},{"d":"2023-07-21","s":"内蒙古","v":45},{"d":"2023-08-04","s":"内蒙古","v":155},{"d":"2023-08-18","s":"内蒙古","v":75},{"d":"2023-09-01","s":"内蒙古","v":125},{"d":"2023-09-15","s":"内蒙古","v":160},{"d":"2023-09-29","s":"内蒙古","v":180},{"d":"2023-10-13","s":"内蒙古","v":195},{"d":"2023-10-27","s":"内蒙古","v":235},{"d":"2023-11-10","s":"内蒙古","v":225},{"d":"2023-11-24","s":"内蒙古","v":230},{"d":"2023-12-08","s":"内蒙古","v":175},{"d":"2023-12-22","s":"内蒙古","v":160},{"d":"2024-01-05","s":"内蒙古","v":350},{"d":"2024-01-19","s":"内蒙古","v":500},{"d":"2024-02-02","s":"内蒙古","v":540},{"d":"2024-02-16","s":"内蒙古","v":560},{"d":"2024-03-01","s":"内蒙古","v":520},{"d":"2024-03-15","s":"内蒙古","v":500},{"d":"2024-03-29","s":"内蒙古","v":500},{"d":"2024-04-12","s":"内蒙古","v":505},{"d":"2024-04-26","s":"内蒙古","v":510},{"d":"2024-05-10","s":"内蒙古","v":700},{"d":"2024-05-24","s":"内蒙古","v":1000},{"d":"2024-06-07","s":"内蒙古","v":1120},{"d":"2024-06-21","s":"内蒙古","v":1130},{"d":"2024-07-05","s":"内蒙古","v":1135},{"d":"2024-07-19","s":"内蒙古","v":1140},{"d":"2024-08-02","s":"内蒙古","v":1145},{"d":"2024-08-16","s":"内蒙古","v":1150},{"d":"2024-08-30","s":"内蒙古","v":1160},{"d":"2024-09-13","s":"内蒙古","v":1200},{"d":"2024-09-27","s":"内蒙古","v":1400},{"d":"2024-10-11","s":"内蒙古","v":1800},{"d":"2024-10-25","s":"内蒙古","v":2380},{"d":"2024-11-08","s":"内蒙古","v":2440},{"d":"2024-11-22","s":"内蒙古","v":2440},{"d":"2024-12-06","s":"内蒙古","v":2430},{"d":"2024-12-20","s":"内蒙古","v":2380},{"d":"2025-01-03","s":"内蒙古","v":2270},{"d":"2025-01-08","s":"内蒙古","v":2200},
{"d":"2023-01-06","s":"山东","v":165},{"d":"2023-01-20","s":"山东","v":170},{"d":"2023-02-03","s":"山东","v":155},{"d":"2023-02-17","s":"山东","v":230},{"d":"2023-03-03","s":"山东","v":180},{"d":"2023-03-17","s":"山东","v":185},{"d":"2023-03-31","s":"山东","v":180},{"d":"2023-04-14","s":"山东","v":150},{"d":"2023-04-28","s":"山东","v":140},{"d":"2023-05-12","s":"山东","v":210},{"d":"2023-05-26","s":"山东","v":200},{"d":"2023-06-09","s":"山东","v":210},{"d":"2023-06-23","s":"山东","v":210},{"d":"2023-07-07","s":"山东","v":205},{"d":"2023-07-21","s":"山东","v":50},{"d":"2023-08-04","s":"山东","v":160},{"d":"2023-08-18","s":"山东","v":90},{"d":"2023-09-01","s":"山东","v":140},{"d":"2023-09-15","s":"山东","v":175},{"d":"2023-09-29","s":"山东","v":200},{"d":"2023-10-13","s":"山东","v":215},{"d":"2023-10-27","s":"山东","v":255},{"d":"2023-11-10","s":"山东","v":245},{"d":"2023-11-24","s":"山东","v":240},{"d":"2023-12-08","s":"山东","v":200},{"d":"2023-12-22","s":"山东","v":190},{"d":"2024-01-05","s":"山东","v":370},{"d":"2024-01-19","s":"山东","v":510},{"d":"2024-02-02","s":"山东","v":545},{"d":"2024-02-16","s":"山东","v":555},{"d":"2024-03-01","s":"山东","v":540},{"d":"2024-03-15","s":"山东","v":530},{"d":"2024-03-29","s":"山东","v":535},{"d":"2024-04-12","s":"山东","v":540},{"d":"2024-04-26","s":"山东","v":550},{"d":"2024-05-10","s":"山东","v":760},{"d":"2024-05-24","s":"山东","v":1030},{"d":"2024-06-07","s":"山东","v":1090},{"d":"2024-06-21","s":"山东","v":1095},{"d":"2024-07-05","s":"山东","v":1095},{"d":"2024-07-19","s":"山东","v":1100},{"d":"2024-08-02","s":"山东","v":1100},{"d":"2024-08-16","s":"山东","v":1105},{"d":"2024-08-30","s":"山东","v":1100},{"d":"2024-09-13","s":"山东","v":990},{"d":"2024-09-27","s":"山东","v":1300},{"d":"2024-10-11","s":"山东","v":1600},{"d":"2024-10-25","s":"山东","v":2150},{"d":"2024-11-08","s":"山东","v":2280},{"d":"2024-11-22","s":"山东","v":2270},{"d":"2024-12-06","s":"山东","v":2230},{"d":"2024-12-20","s":"山东","v":2200},{"d":"2025-01-03","s":"山东","v":2120},{"d":"2025-01-08","s":"山东","v":1920},
{"d":"2023-01-06","s":"山西","v":45},{"d":"2023-01-20","s":"山西","v":45},{"d":"2023-02-03","s":"山西","v":30},{"d":"2023-02-17","s":"山西","v":120},{"d":"2023-03-03","s":"山西","v":95},{"d":"2023-03-17","s":"山西","v":100},{"d":"2023-03-31","s":"山西","v":100},{"d":"2023-04-14","s":"山西","v":60},{"d":"2023-04-28","s":"山西","v":50},{"d":"2023-05-12","s":"山西","v":110},{"d":"2023-05-26","s":"山西","v":90},{"d":"2023-06-09","s":"山西","v":60},{"d":"2023-06-23","s":"山西","v":10},{"d":"2023-07-07","s":"山西","v":0},{"d":"2023-07-21","s":"山西","v":-10},{"d":"2023-08-04","s":"山西","v":90},{"d":"2023-08-18","s":"山西","v":10},{"d":"2023-09-01","s":"山西","v":60},{"d":"2023-09-15","s":"山西","v":100},{"d":"2023-09-29","s":"山西","v":120},{"d":"2023-10-13","s":"山西","v":135},{"d":"2023-10-27","s":"山西","v":175},{"d":"2023-11-10","s":"山西","v":170},{"d":"2023-11-24","s":"山西","v":170},{"d":"2023-12-08","s":"山西","v":120},{"d":"2023-12-22","s":"山西","v":105},{"d":"2024-01-05","s":"山西","v":300},{"d":"2024-01-19","s":"山西","v":460},{"d":"2024-02-02","s":"山西","v":510},{"d":"2024-02-16","s":"山西","v":520},{"d":"2024-03-01","s":"山西","v":480},{"d":"2024-03-15","s":"山西","v":430},{"d":"2024-03-29","s":"山西","v":430},{"d":"2024-04-12","s":"山西","v":440},{"d":"2024-04-26","s":"山西","v":450},{"d":"2024-05-10","s":"山西","v":620},{"d":"2024-05-24","s":"山西","v":900},{"d":"2024-06-07","s":"山西","v":1030},{"d":"2024-06-21","s":"山西","v":1000},{"d":"2024-07-05","s":"山西","v":950},{"d":"2024-07-19","s":"山西","v":930},{"d":"2024-08-02","s":"山西","v":925},{"d":"2024-08-16","s":"山西","v":930},{"d":"2024-08-30","s":"山西","v":950},{"d":"2024-09-13","s":"山西","v":990},{"d":"2024-09-27","s":"山西","v":1200},{"d":"2024-10-11","s":"山西","v":1600},{"d":"2024-10-25","s":"山西","v":2200},{"d":"2024-11-08","s":"山西","v":2360},{"d":"2024-11-22","s":"山西","v":2380},{"d":"2024-12-06","s":"山西","v":2360},{"d":"2024-12-20","s":"山西","v":2330},{"d":"2025-01-03","s":"山西","v":2260},{"d":"2025-01-08","s":"山西","v":2200},
{"d":"2023-01-06","s":"云南","v":178},{"d":"2023-01-20","s":"云南","v":180},{"d":"2023-02-03","s":"云南","v":185},{"d":"2023-02-17","s":"云南","v":200},{"d":"2023-03-03","s":"云南","v":165},{"d":"2023-03-17","s":"云南","v":170},{"d":"2023-03-31","s":"云南","v":165},{"d":"2023-04-14","s":"云南","v":160},{"d":"2023-04-28","s":"云南","v":150},{"d":"2023-05-12","s":"云南","v":300},{"d":"2023-05-26","s":"云南","v":285},{"d":"2023-06-09","s":"云南","v":265},{"d":"2023-06-23","s":"云南","v":300},{"d":"2023-07-07","s":"云南","v":345},{"d":"2023-07-21","s":"云南","v":394},{"d":"2023-08-04","s":"云南","v":440},{"d":"2023-08-18","s":"云南","v":360},{"d":"2023-09-01","s":"云南","v":390},{"d":"2023-09-15","s":"云南","v":455},{"d":"2023-09-29","s":"云南","v":480},{"d":"2023-10-13","s":"云南","v":500},{"d":"2023-10-27","s":"云南","v":650},{"d":"2023-11-10","s":"云南","v":640},{"d":"2023-11-24","s":"云南","v":645},{"d":"2023-12-08","s":"云南","v":350},{"d":"2023-12-22","s":"云南","v":340},{"d":"2024-01-05","s":"云南","v":680},{"d":"2024-01-19","s":"云南","v":730},{"d":"2024-02-02","s":"云南","v":740},{"d":"2024-02-16","s":"云南","v":735},{"d":"2024-03-01","s":"云南","v":600},{"d":"2024-03-15","s":"云南","v":730},{"d":"2024-03-29","s":"云南","v":740},{"d":"2024-04-12","s":"云南","v":760},{"d":"2024-04-26","s":"云南","v":780},{"d":"2024-05-10","s":"云南","v":1180},{"d":"2024-05-24","s":"云南","v":1260},{"d":"2024-06-07","s":"云南","v":1295},{"d":"2024-06-21","s":"云南","v":1295},{"d":"2024-07-05","s":"云南","v":1290},{"d":"2024-07-19","s":"云南","v":1280},{"d":"2024-08-02","s":"云南","v":1285},{"d":"2024-08-16","s":"云南","v":1300},{"d":"2024-08-30","s":"云南","v":1305},{"d":"2024-09-13","s":"云南","v":1310},{"d":"2024-09-27","s":"云南","v":1360},{"d":"2024-10-11","s":"云南","v":1900},{"d":"2024-10-25","s":"云南","v":2300},{"d":"2024-11-08","s":"云南","v":2650},{"d":"2024-11-22","s":"云南","v":2700},{"d":"2024-12-06","s":"云南","v":2700},{"d":"2024-12-20","s":"云南","v":2680},{"d":"2025-01-03","s":"云南","v":2650},{"d":"2025-01-08","s":"云南","v":2620}
]},
"spacing":6,
"vconcat":[
{"spacing":5,"vconcat":[
{"width":782,"height":3,"view":{"fill":"#127d78","stroke":null},"data":{"values":[{"a":0,"b":1,"c":0.5}]},"mark":{"type":"rule","color":"#127d78","strokeWidth":3},"encoding":{"x":{"field":"a","type":"quantitative","scale":{"domain":[0,1],"nice":false},"axis":null},"x2":{"field":"b"},"y":{"field":"c","type":"quantitative","scale":{"domain":[0,1],"nice":false},"axis":null}}},
{"hconcat":[{"hconcat":[
{"width":335,"height":222,"data":{"name":"cost"},
"title":{"text":"氧化铝成本","offset":-24,"baseline":"middle","anchor":"middle","dx":-17,"fontSize":13.5,"fontWeight":"normal","color":"#404040"},
"mark":{"type":"line","strokeWidth":3,"strokeCap":"round","strokeJoin":"round"},
"encoding":{
"x":{"field":"d","type":"temporal","scale":{"type":"utc","domain":[{"year":2023,"month":1,"date":6,"utc":true},{"year":2025,"month":1,"date":10,"utc":true}]},
"axis":{"title":null,"values":[{"year":2023,"month":1,"date":6,"utc":true},{"year":2023,"month":3,"date":6,"utc":true},{"year":2023,"month":5,"date":6,"utc":true},{"year":2023,"month":7,"date":6,"utc":true},{"year":2023,"month":9,"date":6,"utc":true},{"year":2023,"month":11,"date":6,"utc":true},{"year":2024,"month":1,"date":6,"utc":true},{"year":2024,"month":3,"date":6,"utc":true},{"year":2024,"month":5,"date":6,"utc":true},{"year":2024,"month":7,"date":6,"utc":true},{"year":2024,"month":9,"date":6,"utc":true},{"year":2024,"month":11,"date":6,"utc":true},{"year":2025,"month":1,"date":6,"utc":true}],
"labelExpr":"utcFormat(datum.value, '%Y-%m-%d')","labelAngle":-45,"labelAlign":"right","labelBaseline":"middle","labelFontSize":10,"labelColor":"#595959","labelPadding":2,"labelOverlap":false,"labelBound":false,"labelFlush":false,"grid":false,"domain":true,"domainColor":"#d9d9d9","ticks":true,"tickColor":"#d9d9d9","tickSize":4}},
"y":{"field":"v","type":"quantitative","scale":{"domain":[2300,3944],"nice":false,"zero":false},
"axis":{"values":[2300,2500,2700,2900,3100,3300,3500,3700],"format":"d","grid":true,"gridColor":"#d9d9d9","domain":false,"ticks":false,"labelPadding":7,"labelFontSize":11,"labelColor":"#595959",
"title":"元/吨","titleAngle":0,"titleX":-14.5,"titleY":18,"titleAlign":"center","titleBaseline":"middle","titleFont":"Noto Sans CJK SC","titleFontSize":11.5,"titleFontWeight":"bold","titleColor":"#000000"}},
"color":{"field":"s","type":"nominal","scale":{"domain":["重庆","广西","贵州","河北","河南","内蒙古","山东","山西","云南"],"range":["#ED7D31","#A5A5A5","#FFC000","#5B9BD5","#70AD47","#264478","#9E480E","#636363","#997300"]},
"legend":{"orient":"none","legendX":33,"legendY":45,"direction":"horizontal","columns":3,"title":null,"symbolType":"stroke","symbolSize":1300,"symbolStrokeWidth":3.5,"clipHeight":9,"labelFont":"Noto Sans CJK SC","labelFontSize":9,"labelColor":"#595959","columnPadding":9,"rowPadding":3.3,"labelOffset":2,"padding":0,"gridAlign":"all"}}}},
{"width":362,"height":240,
"title":{"text":"氧化铝企业利润","offset":-14,"baseline":"middle","anchor":"middle","dx":-13.5,"fontSize":13,"fontWeight":"bold","color":"#000000"},
"layer":[
{"data":{"values":[{"v":0}]},"mark":{"type":"rule","color":"#d9d9d9","strokeWidth":1},"encoding":{"y":{"field":"v","type":"quantitative"}}},
{"data":{"name":"profit"},"mark":{"type":"line","strokeWidth":2,"strokeCap":"round","strokeJoin":"round","clip":true},
"encoding":{
"x":{"field":"d","type":"temporal","scale":{"type":"utc","domain":[{"year":2023,"month":1,"date":5,"utc":true},{"year":2025,"month":1,"date":9,"utc":true}]},
"axis":{"title":null,"values":[{"year":2023,"month":1,"date":6,"utc":true},{"year":2023,"month":2,"date":6,"utc":true},{"year":2023,"month":3,"date":6,"utc":true},{"year":2023,"month":4,"date":6,"utc":true},{"year":2023,"month":5,"date":6,"utc":true},{"year":2023,"month":6,"date":6,"utc":true},{"year":2023,"month":7,"date":6,"utc":true},{"year":2023,"month":8,"date":6,"utc":true},{"year":2023,"month":9,"date":6,"utc":true},{"year":2023,"month":10,"date":6,"utc":true},{"year":2023,"month":11,"date":6,"utc":true},{"year":2023,"month":12,"date":6,"utc":true},{"year":2024,"month":1,"date":6,"utc":true},{"year":2024,"month":2,"date":6,"utc":true},{"year":2024,"month":3,"date":6,"utc":true},{"year":2024,"month":4,"date":6,"utc":true},{"year":2024,"month":5,"date":6,"utc":true},{"year":2024,"month":6,"date":6,"utc":true},{"year":2024,"month":7,"date":6,"utc":true},{"year":2024,"month":8,"date":6,"utc":true},{"year":2024,"month":9,"date":6,"utc":true},{"year":2024,"month":10,"date":6,"utc":true},{"year":2024,"month":11,"date":6,"utc":true},{"year":2024,"month":12,"date":6,"utc":true},{"year":2025,"month":1,"date":6,"utc":true}],
"labelExpr":"utcFormat(datum.value, '%Y-%m-%d')","labelAngle":-45,"labelAlign":"right","labelBaseline":"middle","labelFontSize":6.5,"labelColor":"#7f8a99","labelPadding":4,"labelOverlap":false,"labelBound":false,"labelFlush":false,"grid":false,"domain":false,"ticks":false}},
"y":{"field":"v","type":"quantitative","scale":{"domain":[-200,2506],"nice":false,"zero":false},
"axis":{"values":[-200,300,800,1300,1800,2300],"format":"d","grid":true,"gridColor":"#d9d9d9","domain":false,"ticks":false,"labelPadding":8,"labelFontSize":11,"labelColor":"#595959",
"title":"元/吨","titleAngle":0,"titleX":-13,"titleY":5,"titleAlign":"center","titleBaseline":"middle","titleFont":"Noto Sans CJK SC","titleFontSize":12,"titleFontWeight":"bold","titleColor":"#000000"}},
"color":{"field":"s","type":"nominal","scale":{"domain":["重庆","广西","贵州","河北","河南","内蒙古","山东","山西","云南"],"range":["#DD6E2C","#999999","#E5A800","#4F81BD","#5B9A3A","#95ADE0","#F4AE8E","#C8C8C8","#FFD27F"]},
"legend":{"orient":"none","legendX":-4,"legendY":31,"direction":"horizontal","columns":5,"title":null,"symbolType":"stroke","symbolSize":1089,"symbolStrokeWidth":3,"clipHeight":8,"labelFont":"Noto Sans CJK SC","labelFontSize":7.5,"labelColor":"#595959","columnPadding":0.2,"rowPadding":7.7,"labelOffset":2,"padding":0,"gridAlign":"all"}}}}
]}
],"spacing":38,"bounds":"flush","resolve":{"scale":{"color":"independent","x":"independent","y":"independent"},"legend":{"color":"independent"}}}],"bounds":"full"}
]},
{"width":782,"height":3,"view":{"fill":"#127d78","stroke":null},"data":{"values":[{"a":0,"b":1,"c":0.5}]},"mark":{"type":"rule","color":"#127d78","strokeWidth":3},"encoding":{"x":{"field":"a","type":"quantitative","scale":{"domain":[0,1],"nice":false},"axis":null},"x2":{"field":"b"},"y":{"field":"c","type":"quantitative","scale":{"domain":[0,1],"nice":false},"axis":null}},
"title":{"text":"资料来源：Mysteel 新湖期货研究所","orient":"bottom","anchor":"start","frame":"bounds","offset":8,"baseline":"top","fontSize":14,"fontWeight":"normal","color":"#000000"}}
]}
